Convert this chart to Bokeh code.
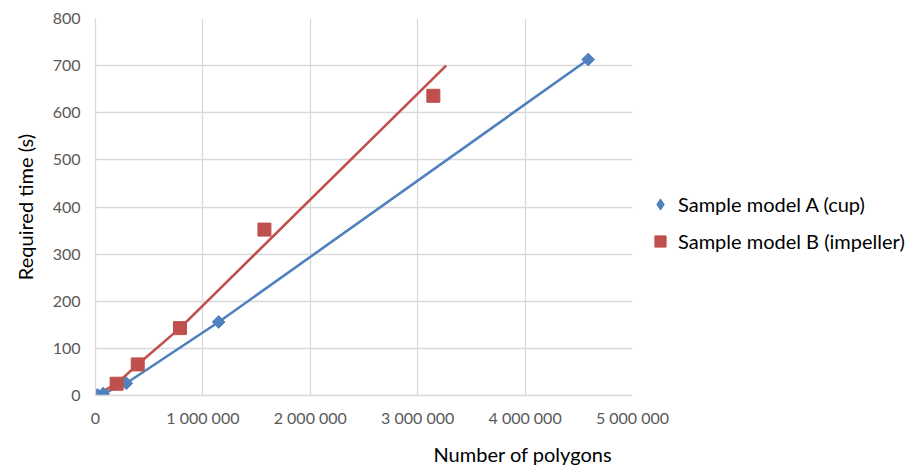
import numpy as np
from bokeh.plotting import figure
from bokeh.models import Range1d, FixedTicker, Legend, LegendItem, Title, ColumnDataSource
from bokeh.embed import file_html
from bokeh.resources import INLINE

# Data
a_polygons = [17920, 71680, 286720, 1146880, 4587520]
a_time = [1, 4, 26, 156, 713]
b_polygons = [196608, 393216, 786432, 1572864, 3145728]
b_time = [25, 66, 143, 352, 636]
# Red guide line (drawn in the source as a separate line)
b_line_x = [12288, 196608, 393216, 786432, 3265000]
b_line_y = [2, 25, 66, 143, 700]

x_ticks = [0, 1000000, 2000000, 3000000, 4000000, 5000000]
x_tick_labels = ["0", "1 000 000", "2 000 000", "3 000 000", "4 000 000", "5 000 000"]
y_ticks = [0, 100, 200, 300, 400, 500, 600, 700, 800]

BLUE = "#4F81BD"
RED = "#C0504D"
FONT = "Lato"

src_a = ColumnDataSource(dict(x=a_polygons, y=a_time))

p = figure(frame_width=537, frame_height=377,
           min_border_left=95, min_border_right=276, min_border_top=18, min_border_bottom=76,
           x_range=Range1d(0, 5000000), y_range=Range1d(0, 800),
           output_backend="svg", toolbar_location=None, outline_line_color=None)

for ax in (p.xaxis[0], p.yaxis[0]):
    ax.axis_line_color = "#d9d9d9"
    ax.axis_line_width = 1.3
    ax.major_tick_line_color = None
    ax.minor_tick_line_color = None
    ax.major_label_text_font = FONT
    ax.major_label_text_font_size = "16px"
    ax.major_label_text_color = "#595959"

p.xaxis.ticker = FixedTicker(ticks=x_ticks)
p.xaxis.major_label_overrides = {t: l for t, l in zip(x_ticks, x_tick_labels)}
p.xaxis.major_label_standoff = 6
p.yaxis.ticker = FixedTicker(ticks=y_ticks)
p.yaxis.major_label_standoff = 9
p.yaxis.axis_label = "Required time (s)"
p.yaxis.axis_label_text_font = FONT
p.yaxis.axis_label_text_font_size = "20px"
p.yaxis.axis_label_text_font_style = "normal"
p.yaxis.axis_label_text_color = "#000000"
p.yaxis.axis_label_standoff = 13

p.xgrid.grid_line_color = "#d9d9d9"
p.ygrid.grid_line_color = "#d9d9d9"
p.xgrid.grid_line_width = 1.3
p.ygrid.grid_line_width = 1.3

p.line("x", "y", source=src_a, line_color=BLUE, line_width=2.6)
p.line(b_line_x, b_line_y, line_color=RED, line_width=2.6)
# diamond key for the legend (fully covered by the rotated squares on the plot)
ra_key = p.scatter("x", "y", source=src_a, marker="diamond", size=11,
                   fill_color=BLUE, line_color=BLUE)
p.scatter("x", "y", source=src_a, marker="square", angle=np.pi / 4, size=9,
          fill_color=BLUE, line_color=BLUE)
rb = p.scatter(b_polygons, b_time, marker="square", size=13,
               fill_color=RED, line_color=RED)

legend = Legend(items=[LegendItem(label="Sample model A (cup)", renderers=[ra_key]),
                       LegendItem(label="Sample model B (impeller)", renderers=[rb])],
                location=(14, 140), padding=0, margin=0, spacing=9,
                glyph_width=28, glyph_height=28, label_height=28, label_standoff=4,
                label_text_font=FONT, label_text_font_size="20px", label_text_color="#000000",
                background_fill_alpha=0, border_line_color=None)
p.add_layout(legend, "right")

xtitle = Title(text="Number of polygons", align="left", offset=338, standoff=20,
               text_font=FONT, text_font_size="20px", text_font_style="normal",
               text_color="#000000")
p.add_layout(xtitle, "below")

open("out.html", "w").write(file_html(p, INLINE))
